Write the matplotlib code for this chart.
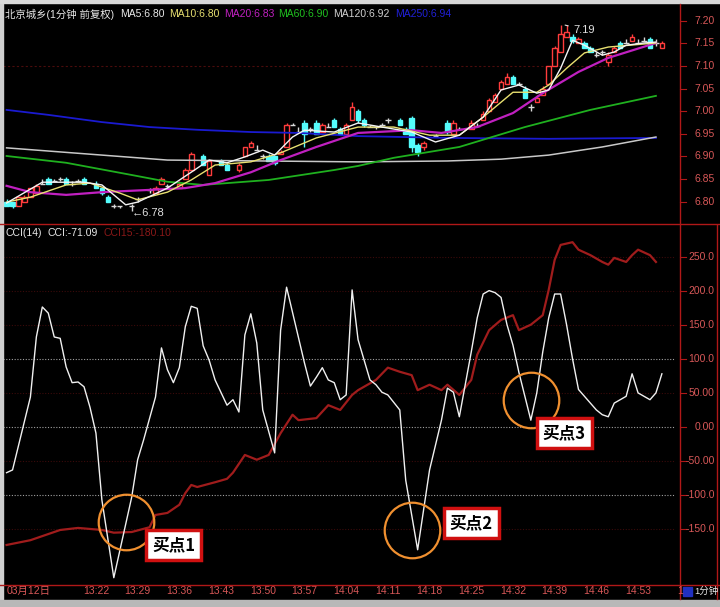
import matplotlib
matplotlib.use("Agg")
import matplotlib.pyplot as plt
from matplotlib.lines import Line2D
from matplotlib.patches import Rectangle

plt.rcParams['font.family'] = ['Liberation Sans', 'Noto Sans CJK SC', 'DejaVu Sans']

# ---------------- data ----------------
# 1-minute candles (bar index 0 = 13:07)
bar_i = [0, 1, 2, 3, 4, 5, 6, 7, 8, 9, 10, 11, 12, 13,
         15, 16, 17, 18, 19, 21, 22, 24, 25, 26, 27,
         29, 30, 31, 33, 34, 36, 37, 39, 40, 41, 42,
         43, 44, 45, 46, 47, 48, 49, 50, 51, 52, 53, 54,
         55, 56, 57, 58, 59, 60, 61, 62, 63, 64,
         66, 67, 68, 69, 70, 72, 74, 75, 76, 78, 79,
         80, 81, 82, 83, 84, 85, 86, 87, 88, 89, 90,
         91, 92, 93, 94, 95, 96, 97, 98, 99, 100,
         101, 102, 103, 104, 105, 106, 107, 108, 109, 110]
opens = [6.80, 6.80, 6.79, 6.80, 6.81, 6.82, 6.84, 6.85, 6.845, 6.85, 6.85, 6.84, 6.845, 6.85,
         6.84, 6.83, 6.81, 6.79, 6.79, 6.79, 6.805, 6.825, 6.82, 6.84, 6.835,
         6.83, 6.85, 6.87, 6.90, 6.86, 6.89, 6.88, 6.87, 6.90, 6.92, 6.915,
         6.90, 6.90, 6.90, 6.905, 6.92, 6.97, 6.955, 6.975, 6.96, 6.975, 6.955, 6.965,
         6.98, 6.96, 6.95, 6.98, 7.00, 6.98, 6.965, 6.965, 6.97, 6.98,
         6.98, 6.96, 6.985, 6.925, 6.92, 6.945, 6.975, 6.95, 6.96, 6.96, 6.968,
         6.98, 7.00, 7.02, 7.05, 7.06, 7.075, 7.06, 7.05, 7.01, 7.02, 7.035,
         7.06, 7.10, 7.13, 7.165, 7.165, 7.15, 7.15, 7.14, 7.125, 7.13,
         7.11, 7.13, 7.15, 7.15, 7.155, 7.15, 7.155, 7.16, 7.15, 7.14]
highs = [6.805, 6.80, 6.81, 6.815, 6.83, 6.84, 6.85, 6.855, 6.85, 6.855, 6.855, 6.845, 6.85, 6.855,
         6.845, 6.83, 6.815, 6.795, 6.79, 6.795, 6.81, 6.83, 6.835, 6.855, 6.84,
         6.845, 6.875, 6.91, 6.905, 6.89, 6.895, 6.885, 6.885, 6.92, 6.935, 6.925,
         6.905, 6.905, 6.90, 6.915, 6.975, 6.975, 6.965, 6.98, 6.965, 6.98, 6.975, 6.975,
         6.985, 6.965, 6.975, 7.02, 7.005, 6.985, 6.97, 6.965, 6.975, 6.985,
         6.985, 6.965, 6.99, 6.93, 6.935, 6.95, 6.98, 6.98, 6.965, 6.98, 6.975,
         7.00, 7.03, 7.04, 7.07, 7.085, 7.08, 7.065, 7.055, 7.015, 7.035, 7.055,
         7.10, 7.145, 7.19, 7.19, 7.17, 7.165, 7.155, 7.145, 7.13, 7.135,
         7.13, 7.145, 7.155, 7.16, 7.17, 7.16, 7.165, 7.165, 7.16, 7.155]
lows = [6.79, 6.785, 6.79, 6.80, 6.81, 6.82, 6.84, 6.84, 6.845, 6.845, 6.84, 6.835, 6.845, 6.84,
        6.83, 6.815, 6.80, 6.785, 6.785, 6.78, 6.80, 6.82, 6.82, 6.84, 6.83,
        6.83, 6.85, 6.87, 6.88, 6.86, 6.88, 6.87, 6.865, 6.90, 6.92, 6.915,
        6.895, 6.89, 6.88, 6.905, 6.92, 6.97, 6.955, 6.92, 6.955, 6.95, 6.955, 6.965,
        6.965, 6.95, 6.95, 6.98, 6.975, 6.965, 6.965, 6.96, 6.97, 6.975,
        6.97, 6.95, 6.91, 6.90, 6.915, 6.945, 6.95, 6.95, 6.96, 6.96, 6.965,
        6.98, 7.00, 7.02, 7.05, 7.06, 7.06, 7.06, 7.03, 7.00, 7.02, 7.035,
        7.06, 7.10, 7.13, 7.165, 7.15, 7.15, 7.14, 7.13, 7.12, 7.125,
        7.10, 7.13, 7.14, 7.15, 7.155, 7.15, 7.155, 7.14, 7.145, 7.14]
closes = [6.79, 6.79, 6.81, 6.81, 6.83, 6.835, 6.84, 6.84, 6.845, 6.85, 6.84, 6.84, 6.845, 6.84,
          6.83, 6.82, 6.80, 6.79, 6.79, 6.79, 6.805, 6.825, 6.83, 6.85, 6.835,
          6.84, 6.87, 6.905, 6.88, 6.89, 6.88, 6.87, 6.88, 6.92, 6.93, 6.915,
          6.90, 6.89, 6.885, 6.91, 6.97, 6.97, 6.955, 6.95, 6.96, 6.95, 6.97, 6.965,
          6.965, 6.95, 6.97, 7.01, 6.98, 6.97, 6.965, 6.965, 6.97, 6.98,
          6.97, 6.95, 6.92, 6.91, 6.93, 6.945, 6.955, 6.975, 6.96, 6.975, 6.968,
          6.995, 7.025, 7.035, 7.065, 7.075, 7.06, 7.06, 7.03, 7.01, 7.03, 7.05,
          7.10, 7.14, 7.17, 7.175, 7.155, 7.16, 7.14, 7.13, 7.125, 7.13,
          7.125, 7.14, 7.14, 7.15, 7.165, 7.15, 7.155, 7.14, 7.15, 7.15]

# moving averages (bar index, price)
ma5_i = [0, 6, 13, 16, 20, 22, 27, 32, 34, 37, 40, 43, 45, 48, 50, 55, 59, 63, 68, 72, 76,
         80, 83, 86, 89, 91, 93, 95, 97, 100, 102, 104, 107, 109]
ma5_v = [6.797, 6.843, 6.843, 6.837, 6.793, 6.799, 6.830, 6.874, 6.892, 6.886, 6.899, 6.914,
         6.903, 6.943, 6.958, 6.954, 6.974, 6.965, 6.954, 6.932, 6.947, 6.987, 7.047, 7.058,
         7.040, 7.047, 7.095, 7.157, 7.146, 7.124, 7.131, 7.146, 7.151, 7.153]
ma10_i = [0, 4, 10, 14, 19, 22, 27, 31, 35, 41, 46, 52, 59, 65, 71, 76, 80, 85, 89, 91, 94,
          97, 101, 109]
ma10_v = [6.799, 6.810, 6.837, 6.841, 6.819, 6.804, 6.821, 6.848, 6.881, 6.888, 6.908, 6.941,
          6.965, 6.965, 6.947, 6.947, 6.987, 7.042, 7.042, 7.058, 7.095, 7.129, 7.142, 7.151]
ma20_i = [0, 4, 10, 16, 24, 30, 35, 41, 46, 52, 59, 68, 73, 79, 85, 90, 96, 101, 109]
ma20_v = [6.835, 6.821, 6.815, 6.821, 6.826, 6.830, 6.841, 6.865, 6.892, 6.921, 6.952, 6.958,
          6.952, 6.965, 6.996, 7.040, 7.087, 7.118, 7.151]
ma60_i = [0, 10, 21, 27, 33, 44, 55, 59, 65, 76, 87, 98, 109]
ma60_v = [6.901, 6.886, 6.859, 6.844, 6.837, 6.848, 6.870, 6.879, 6.897, 6.921, 6.965, 7.003, 7.034]
ma120_i = [0, 16, 27, 43, 59, 74, 83, 91, 100, 109]
ma120_v = [6.919, 6.903, 6.892, 6.890, 6.888, 6.890, 6.894, 6.903, 6.921, 6.943]
ma250_i = [0, 7, 16, 24, 32, 41, 49, 59, 74, 91, 109]
ma250_v = [7.003, 6.992, 6.976, 6.965, 6.959, 6.954, 6.952, 6.945, 6.941, 6.939, 6.941]

# CCI(14) white line and CCI15 red line
cci_i = [0, 1, 4, 5, 6, 7, 8, 9, 10, 11, 12, 13, 14, 15, 16, 18, 21, 22, 23, 25, 26, 27, 28,
         29, 30, 31, 32, 33, 34, 35, 37, 38, 39, 40, 41, 42, 43, 45, 46, 47, 50, 51, 52, 53,
         54, 55, 56, 57, 58, 59, 61, 62, 63, 64, 66, 67, 69, 71, 73, 74, 75, 76, 78, 79, 80,
         81, 82, 83, 84, 85, 86, 87, 88, 89, 90, 91, 92, 93, 94, 95, 96, 97, 98, 99, 100,
         101, 102, 103, 104, 105, 106, 107, 108, 109, 110]
cci_v = [-67, -63, 44, 132, 176, 167, 132, 130, 88, 65, 66, 59, 29, -9, -107, -221, -103, -48,
         -19, 44, 116, 84, 65, 87, 147, 177, 174, 119, 98, 69, 32, 40, 22, 135, 166, 123, 25,
         -38, 142, 205, 94, 60, 73, 87, 69, 65, 40, 47, 201, 128, 69, 62, 51, 47, 25, -78,
         -180, -63, 10, 57, 51, 15, 110, 160, 195, 200, 197, 190, 150, 120, 80, 45, 10, 50,
         110, 160, 195, 195, 150, 100, 55, 45, 35, 25, 18, 15, 35, 40, 45, 78, 50, 45, 40,
         50, 78]
cci15_i = [0, 4, 9, 12, 16, 18, 21, 24, 25, 27, 29, 30, 31, 32, 35, 37, 38, 40, 42, 44, 46, 48,
           49, 52, 54, 56, 58, 59, 62, 64, 66, 68, 69, 71, 73, 74, 76, 78, 79, 81, 83, 85, 86,
           88, 90, 91, 92, 93, 95, 96, 98, 100, 101, 102, 104, 105, 106, 108, 109]
cci15_v = [-173, -166, -151, -148, -151, -155, -154, -147, -129, -126, -114, -97, -85, -88,
           -81, -76, -67, -41, -48, -41, -9, 18, 10, 13, 32, 25, 47, 54, 69, 87, 81, 76, 54,
           62, 54, 62, 47, 69, 106, 142, 157, 164, 142, 150, 164, 201, 245, 267, 271, 260,
           252, 242, 238, 248, 242, 252, 260, 252, 242]

time_i = [15, 22, 29, 36, 43, 50, 57, 64, 71, 78, 85, 92, 99, 106]
time_lbl = ['13:22', '13:29', '13:36', '13:43', '13:50', '13:57', '14:04', '14:11',
            '14:18', '14:25', '14:32', '14:39', '14:46', '14:53']
price_ticks = [7.20, 7.15, 7.10, 7.05, 7.00, 6.95, 6.90, 6.85, 6.80]
cci_ticks = [250, 200, 150, 100, 50, 0, -50, -100, -150]
cci_lbls = ['250.0', '200.0', '150.0', '100.0', '50.00', '0.00', '-50.00', '-100.0', '-150.0']

buy_i = [20, 68, 88]
buy_v = [-139, -151, 40]
buy_lbl_i = [28, 78, 93.6]
buy_lbl_v = [-173, -141, -9]
buy_txt = ['买点1', '买点2', '买点3']

# ---------------- layout ----------------
W, H = 720, 607
fig = plt.figure(figsize=(7.2, 6.07), dpi=100)
fig.patch.set_facecolor('black')


def rect(x0, y0, x1, y1):
    return [x0 / W, 1 - y1 / H, (x1 - x0) / W, (y1 - y0) / H]


ax1 = fig.add_axes(rect(3, 5, 675, 222))
ax2 = fig.add_axes(rect(3, 225, 675, 585))
for ax in (ax1, ax2):
    ax.set_facecolor('black')
    ax.set_xlim(-0.6, 112.2)
    ax.set_xticks([])
    ax.set_yticks([])
    for s in ax.spines.values():
        s.set_visible(False)
ax1.set_ylim(6.755, 7.235)
ax2.set_ylim(-231.7, 296.2)

RED = '#b01818'
LBL = '#d85858'

# ---- price panel ----
ax1.axhline(7.10, color='#4a0c0c', lw=0.8, ls=(0, (2, 2)))
up_c, dn_c, eq_c = '#ff3c3c', '#54fcfc', '#d8d8d8'
for i, o, h, l, c in zip(bar_i, opens, highs, lows, closes):
    col = up_c if c > o else dn_c if c < o else eq_c
    ax1.vlines(i, l, h, color=col, lw=1, zorder=2)
    if c == o:
        ax1.hlines(c, i - 0.45, i + 0.45, color=col, lw=1, zorder=3)
    else:
        ax1.add_patch(Rectangle((i - 0.38, min(o, c)), 0.76, abs(c - o),
                                facecolor='black' if c > o else dn_c,
                                edgecolor=col, lw=1, zorder=3))

ax1.plot(ma250_i, ma250_v, color='#1a1ad0', lw=1.3, zorder=4)
ax1.plot(ma120_i, ma120_v, color='#c8c8c8', lw=1.1, zorder=4)
ax1.plot(ma60_i, ma60_v, color='#1fb01f', lw=1.3, zorder=4)
ax1.plot(ma20_i, ma20_v, color='#c020c0', lw=1.6, zorder=4)
ax1.plot(ma10_i, ma10_v, color='#e8e070', lw=1.0, zorder=5)
ax1.plot(ma5_i, ma5_v, color='#f4f4f4', lw=1.0, zorder=5)

ax1.annotate('7.19', xy=(93.3, 7.192), xytext=(95.2, 7.18), color='#e0e0e0', fontsize=8,
             va='center', arrowprops=dict(arrowstyle='-', color='#e0e0e0', lw=0.8))
ax1.text(21.0, 6.776, '←6.78', color='#e0e0e0', fontsize=8, va='center')

# title row
title = [('北京城乡(1分钟 前复权)', 5, '#e8e8e8'), ('MA5:6.80', 120, '#e8e8e8'),
         ('MA10:6.80', 169, '#e8e070'), ('MA20:6.83', 224, '#c020c0'),
         ('MA60:6.90', 278, '#1fc01f'), ('MA120:6.92', 333, '#d0d0d0'),
         ('MA250:6.94', 395, '#2020d8')]
for t, x, col in title:
    fig.text(x / W, 1 - 14 / H, t, color=col, fontsize=7.5, va='center')

# ---- CCI panel ----
for v in cci_ticks:
    if v in (100, 0, -100):
        ax2.axhline(v, color='#a0a0a0', lw=0.8, ls=(0, (1, 1.5)))
    else:
        ax2.axhline(v, color='#3a0a0a', lw=0.8, ls=(0, (1, 1.5)))
ax2.plot(cci15_i, cci15_v, color='#a01c1c', lw=1.6, zorder=3)
ax2.plot(cci_i, cci_v, color='#f0f0f0', lw=1.0, zorder=4)

ax2.plot(buy_i, buy_v, 'o', ms=40, mfc='none', mec='#f09030', mew=1.6, zorder=5)
for x, y, t in zip(buy_lbl_i, buy_lbl_v, buy_txt):
    ax2.text(x, y, t, fontsize=12, fontweight='bold', color='black', ha='center',
             va='center', family=['Noto Sans CJK SC'], zorder=6,
             bbox=dict(boxstyle='square,pad=0.35', fc='white', ec='#d01010', lw=2.5))

fig.text(5 / W, 1 - 233 / H, 'CCI(14)', color='#e8e8e8', fontsize=7.5, va='center')
fig.text(48 / W, 1 - 233 / H, 'CCI:-71.09', color='#e8e8e8', fontsize=7.5, va='center')
fig.text(103 / W, 1 - 233 / H, 'CCI15:-180.10', color='#8a1818', fontsize=7.5, va='center')

# ---- right axis ----
for ax, ticks, lbls in ((ax1, price_ticks, ['%.2f' % p for p in price_ticks]),
                        (ax2, cci_ticks, cci_lbls)):
    tr = ax.get_yaxis_transform()
    for v, s in zip(ticks, lbls):
        ax.text(1.059, v, s, transform=tr, ha='right', va='center', color=LBL,
                fontsize=7.5, clip_on=False)
        ax.plot([1.0074, 1.017], [v, v], transform=tr, color=RED, lw=0.8, clip_on=False)

# frame lines
fig.add_artist(Line2D([680 / W] * 2, [8 / H, 1 - 4 / H], color=RED, lw=1))
fig.add_artist(Line2D([717 / W] * 2, [8 / H, 1 - 225 / H], color=RED, lw=1))
fig.add_artist(Line2D([0, 1], [1 - 223.5 / H] * 2, color=RED, lw=1))
fig.add_artist(Line2D([0, 1], [1 - 585 / H] * 2, color=RED, lw=1))
fig.add_artist(Rectangle((0, 0), 2.5 / W, 1, transform=fig.transFigure, color='#d0d0d0'))
fig.add_artist(Rectangle((0, 1 - 3 / H), 1, 3 / H, transform=fig.transFigure, color='#d8d8d8'))
fig.add_artist(Rectangle((0, 0), 1, 7 / H, transform=fig.transFigure, color='#b8b8b8'))

# time axis
ty = 1 - 591 / H
fig.text(7 / W, ty, '03月12日', color=LBL, fontsize=7.5, va='center')
for i, s in zip(time_i, time_lbl):
    ax2.text(i, -0.0167, s, transform=ax2.get_xaxis_transform(), color=LBL, fontsize=7.5,
             ha='center', va='center', clip_on=False)
fig.text(677 / W, ty, '1', color=LBL, fontsize=7.5, va='center')
fig.add_artist(Rectangle((683 / W, 1 - 596 / H), 9 / W, 9 / H, transform=fig.transFigure,
                         color='#2030c0'))
fig.text(694 / W, ty, '1分钟', color='#e8e8e8', fontsize=6.8, va='center')

fig.savefig('out.png', dpi=100, facecolor='black')
